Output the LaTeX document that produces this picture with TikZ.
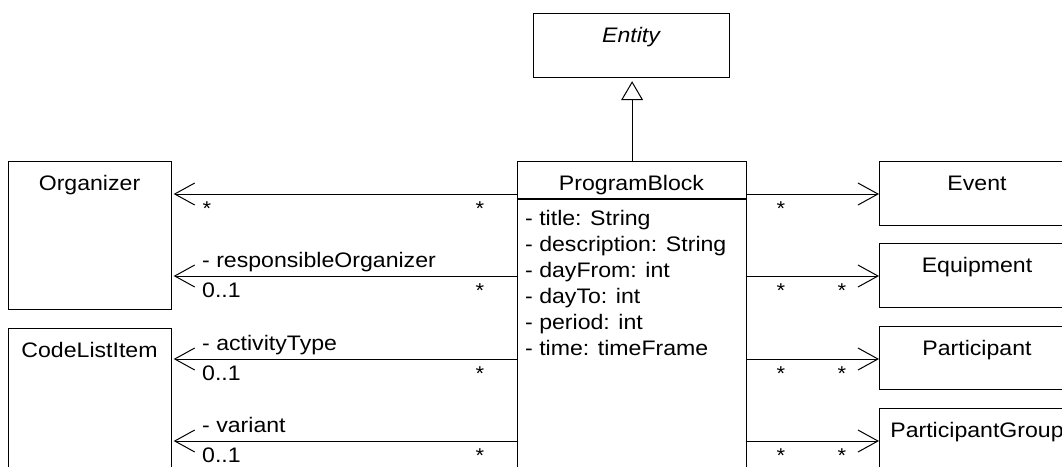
\documentclass[tikz,border=0pt]{standalone}
\usepackage{fontspec}
\setmainfont{Liberation Sans}[FakeStretch=1.1]
\usetikzlibrary{arrows.meta}
\begin{document}
\begin{tikzpicture}[x=1pt,y=-1pt,
  box/.style={draw, line width=1.2pt, inner sep=0pt, anchor=north west},
  cname/.style={anchor=base, inner sep=0pt, font=\fontsize{21}{25}\selectfont},
  txt/.style={anchor=base west, inner sep=0pt, font=\fontsize{21}{25}\selectfont},
  star/.style={anchor=base, inner sep=0pt, font=\fontsize{20}{24}\selectfont},
  assoc/.style={line width=1pt, -{Straight Barb[length=20pt,width=22pt,line width=1pt]}},
  gen/.style={line width=1pt, -{Triangle[open,length=19pt,width=22pt,line width=1pt]}}]
\clip (0,0) rectangle (1062,466);
\fill[white] (0,0) rectangle (1062,466);

% boxes
\node[box, minimum width=163pt, minimum height=148pt] (org) at (8,161) {};
\node[box, minimum width=163pt, minimum height=220pt] (cli) at (8,328) {};
\node[box, minimum width=196pt, minimum height=64pt] (ent) at (533,13) {};
\node[box, minimum width=229pt, minimum height=400pt] (pb) at (517,161) {};
\node[box, minimum width=196pt, minimum height=64pt] (ev) at (879,161) {};
\node[box, minimum width=196pt, minimum height=64pt] (eq) at (879,243) {};
\node[box, minimum width=196pt, minimum height=63pt] (pa) at (879,326) {};
\node[box, minimum width=196pt, minimum height=120pt] (pg) at (879,408) {};
\draw[line width=1.2pt] (pb.west |- 0,199) -- (pb.east |- 0,199);

% names
\node[cname] (orgn) at (89.5,190) {Organizer};
\node[cname] (clin) at (89.5,357) {CodeListItem};
\node[cname] (entn) at (631,42) {\itshape Entity};
\node[cname] (pbn) at (631.5,190) {ProgramBlock};
\node[cname] (evn) at (977,190) {Event};
\node[cname] (eqn) at (977,272) {Equipment};
\node[cname] (pan) at (977,355) {Participant};
\node[cname] (pgn) at (977,437) {ParticipantGroup};

% attributes
\node[txt] (a1) at (525,225) {- title: String};
\node[txt] (a2) at (525,251) {- description: String};
\node[txt] (a3) at (525,277) {- dayFrom: int};
\node[txt] (a4) at (525,303) {- dayTo: int};
\node[txt] (a5) at (525,329) {- period: int};
\node[txt] (a6) at (525,355) {- time: timeFrame};

% generalization
\draw[gen, shorten >=3pt] (pb.north) -- (pb.north |- ent.south);

% left associations
\draw[assoc, shorten >=1.5pt] (pb.west |- 0,194) -- (org.east |- 0,194);
\draw[assoc, shorten >=1.5pt] (pb.west |- 0,276) -- (org.east |- 0,276);
\draw[assoc, shorten >=1.5pt] (pb.west |- 0,359) -- (cli.east |- 0,359);
\draw[assoc, shorten >=1.5pt] (pb.west |- 0,441) -- (cli.east |- 0,441);

\node[star] (s1a) at (207,215) {*};
\node[star] (s1b) at (480,215) {*};
\node[txt] (l2a) at (202,267) {- responsibleOrganizer};
\node[txt] (l2b) at (202,297) {0..1};
\node[star] (s2b) at (480,297) {*};
\node[txt] (l3a) at (202,350) {- activityType};
\node[txt] (l3b) at (202,380) {0..1};
\node[star] (s3b) at (480,380) {*};
\node[txt] (l4a) at (202,432) {- variant};
\node[txt] (l4b) at (202,462) {0..1};
\node[star] (s4b) at (480,462) {*};

% right associations
\draw[assoc] (pb.east |- 0,194) -- (ev.west |- 0,194);
\draw[assoc] (pb.east |- 0,276) -- (eq.west |- 0,276);
\draw[assoc] (pb.east |- 0,359) -- (pa.west |- 0,359);
\draw[assoc] (pb.east |- 0,441) -- (pg.west |- 0,441);

\node[star] (r1a) at (781,215) {*};
\node[star] (r2a) at (781,297) {*};
\node[star] (r2b) at (842,297) {*};
\node[star] (r3a) at (781,380) {*};
\node[star] (r3b) at (842,380) {*};
\node[star] (r4a) at (781,462) {*};
\node[star] (r4b) at (842,462) {*};
\end{tikzpicture}
\end{document}
